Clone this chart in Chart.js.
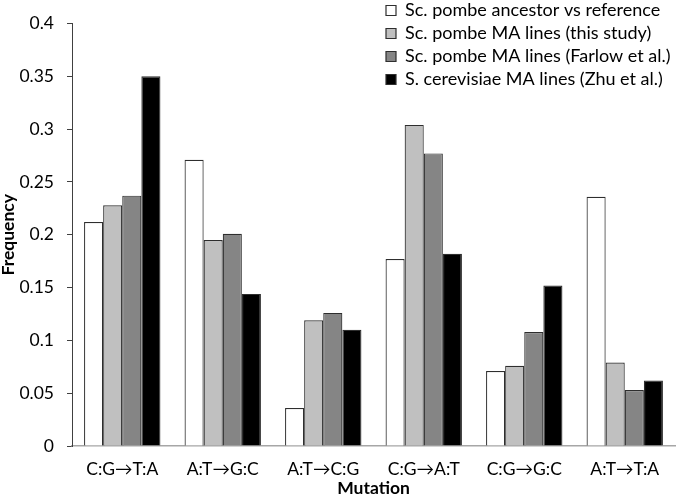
<!DOCTYPE html>
<html>
<head>
<meta charset="utf-8">
<script src="https://cdn.jsdelivr.net/npm/chart.js@4.4.0/dist/chart.umd.min.js"></script>
<style>
  html, body { margin: 0; padding: 0; background: #fff; }
  #wrap { width: 677px; height: 499px; }
</style>
</head>
<body>
<div id="wrap"><canvas id="c" width="677" height="499"></canvas></div>
<script>
const categories = ["C:G\u2192T:A", "A:T\u2192G:C", "A:T\u2192C:G", "C:G\u2192A:T", "C:G\u2192G:C", "A:T\u2192T:A"];
const seriesNames = [
  "Sc. pombe ancestor vs reference",
  "Sc. pombe MA lines (this study)",
  "Sc. pombe MA lines (Farlow et al.)",
  "S. cerevisiae MA lines (Zhu et al.)"
];
const ancestorVsRef = [0.212, 0.271, 0.036, 0.177, 0.071, 0.236];
const thisStudy     = [0.228, 0.195, 0.119, 0.304, 0.076, 0.079];
const farlow        = [0.237, 0.201, 0.126, 0.277, 0.108, 0.053];
const zhu           = [0.350, 0.144, 0.110, 0.182, 0.152, 0.062];
const yTicks = [0, 0.05, 0.1, 0.15, 0.2, 0.25, 0.3, 0.35, 0.4];

const fills = ["#ffffff", "#c0c0c0", "#858585", "#000000"];
const FONT = "Lato, Carlito, 'Liberation Sans', sans-serif";

const legendMover = {
  id: 'legendMover',
  afterLayout(chart) {
    const lg = chart.legend;
    if (!lg) return;
    const w = lg.width, h = lg.height;
    lg.left = 381; lg.right = 381 + w;
    lg.top = -3.5; lg.bottom = -3.5 + h;
  }
};

new Chart(document.getElementById('c'), {
  type: 'bar',
  data: {
    labels: categories,
    datasets: [ancestorVsRef, thisStudy, farlow, zhu].map((d, i) => ({
      label: seriesNames[i],
      data: d,
      backgroundColor: fills[i],
      borderColor: '#2e2e2e',
      borderWidth: 1.2,
      borderSkipped: 'bottom',
      categoryPercentage: 0.76,
      barPercentage: 1.0
    }))
  },
  options: {
    responsive: false,
    animation: false,
    events: [],
    layout: { padding: { top: 11, right: 2, left: 0, bottom: 0 } },
    plugins: {
      legend: {
        position: 'chartArea',
        align: 'start',
        labels: {
          color: '#000',
          font: { family: FONT, size: 18 },
          boxWidth: 10,
          boxHeight: 10,
          padding: 5
        }
      },
      tooltip: { enabled: false }
    },
    scales: {
      x: {
        grid: { display: false, drawTicks: false },
        border: { display: true, color: '#a6a6a6', width: 1.5 },
        ticks: { color: '#000', font: { family: FONT, size: 17.5 }, padding: 13, maxRotation: 0 },
        title: { display: true, text: 'Mutation', color: '#000', font: { family: FONT, size: 17.5, weight: 'bold', lineHeight: 1 }, padding: { top: 0, bottom: 1.5 } },
        afterFit(axis) { axis.height = 53; }
      },
      y: {
        min: 0, max: 0.4,
        afterBuildTicks(axis) { axis.ticks = yTicks.map(v => ({ value: v })); },
        grid: { display: true, drawOnChartArea: false, drawTicks: true, tickLength: 5, color: '#404040' },
        border: { display: true, color: '#404040', width: 1 },
        ticks: { color: '#000', font: { family: FONT, size: 17.5 }, padding: 13, callback: v => String(v) },
        title: { display: true, text: 'Frequency', color: '#000', font: { family: FONT, size: 17.5, weight: 'bold', lineHeight: 1 }, padding: { top: 0, bottom: 0 } },
        afterFit(axis) { axis.width = 72; }
      }
    }
  },
  plugins: [legendMover]
});
</script>
</body>
</html>
